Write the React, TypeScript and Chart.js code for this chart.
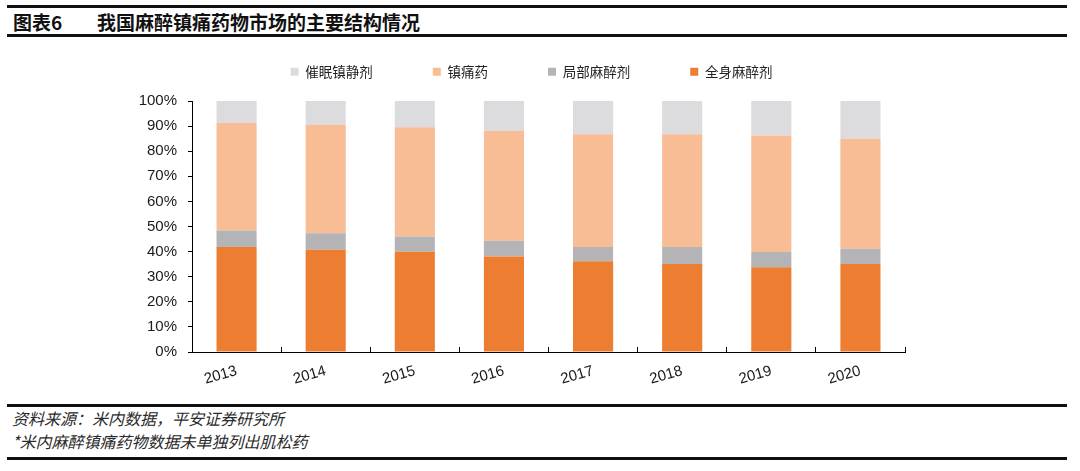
import React, { useEffect, useRef } from "react";
import { Chart, registerables } from "chart.js";

Chart.register(...registerables);

const years = ["2013", "2014", "2015", "2016", "2017", "2018", "2019", "2020"];
const generalAnesthetics = [41.8, 40.7, 39.9, 38.0, 36.2, 35.1, 33.8, 35.1];
const localAnesthetics = [6.6, 6.6, 6.1, 6.3, 5.6, 6.7, 6.0, 6.0];
const analgesics = [42.8, 43.2, 43.5, 43.7, 45.0, 45.0, 46.5, 43.9];
const sedatives = [8.8, 9.5, 10.5, 12.0, 13.2, 13.2, 13.7, 15.0];

const seriesNames = ["全身麻醉剂", "局部麻醉剂", "镇痛药", "催眠镇静剂"];
const seriesColors = ["#ED7D31", "#B4B4B6", "#F8BD95", "#DCDCDE"];
const yTicks = [0, 10, 20, 30, 40, 50, 60, 70, 80, 90, 100];

const titleLabel = "图表6";
const titleText = "我国麻醉镇痛药物市场的主要结构情况";
const sourceText = "资料来源：米内数据，平安证券研究所";
const noteText = "*米内麻醉镇痛药物数据未单独列出肌松药";

const CJK = '"Noto Sans CJK SC", "Noto Sans", sans-serif';
const LATIN = '"Liberation Sans", Arial, sans-serif';

const LEGEND_CENTER = 431.5;

const legendSpacer = {
  id: "legendSpacer",
  afterInit(chart: any) {
    const lg = chart.legend;
    if (!lg) return;
    const fit = lg.fit;
    lg.fit = function () {
      fit.call(lg);
      lg.height += 12.5;
    };
  },
  afterLayout(chart: any) {
    const lg = chart.legend;
    if (!lg) return;
    const w = lg.right - lg.left;
    lg.left = LEGEND_CENTER - w / 2;
    lg.right = lg.left + w;
  },
};

export default function App() {
  const ref = useRef<HTMLCanvasElement | null>(null);

  useEffect(() => {
    if (!ref.current) return;
    const allSeries = [generalAnesthetics, localAnesthetics, analgesics, sedatives];
    const chart = new Chart(ref.current, {
      type: "bar",
      data: {
        labels: years,
        datasets: allSeries.map((d, i) => ({
          label: seriesNames[i],
          data: d,
          backgroundColor: seriesColors[i],
          borderWidth: 0,
          categoryPercentage: 1,
          barPercentage: 0.45,
        })),
      },
      plugins: [legendSpacer],
      options: {
        animation: false,
        responsive: false,
        maintainAspectRatio: false,
        devicePixelRatio: 1,
        layout: { padding: { left: 0, right: 55, top: 5, bottom: 8 } },
        plugins: {
          tooltip: { enabled: false },
          legend: {
            display: true,
            position: "top",
            reverse: true,
            labels: {
              boxWidth: 8,
              boxHeight: 8,
              padding: 60,
              color: "#222",
              font: { family: CJK, size: 13.5 },
            },
          },
        },
        scales: {
          x: {
            stacked: true,
            offset: true,
            afterFit: (s: any) => {
              s.height = 40;
            },
            grid: {
              display: true,
              offset: true,
              drawOnChartArea: false,
              drawTicks: true,
              tickLength: -5,
              color: "#000",
            },
            border: { display: true, color: "#000", width: 1 },
            ticks: {
              minRotation: 16,
              maxRotation: 16,
              padding: 15,
              color: "#1a1a1a",
              font: { family: LATIN, size: 15 },
            },
          },
          y: {
            stacked: true,
            min: 0,
            max: 100,
            afterFit: (s: any) => {
              s.width = 92;
            },
            afterBuildTicks: (s: any) => {
              s.ticks = yTicks.map((v) => ({ value: v }));
            },
            grid: {
              display: true,
              drawOnChartArea: false,
              drawTicks: true,
              tickLength: 4,
              color: "#000",
            },
            border: { display: true, color: "#000", width: 1 },
            ticks: {
              padding: 11,
              color: "#1a1a1a",
              font: { family: LATIN, size: 15 },
              callback: (v: any) => `${v}%`,
            },
          },
        },
      },
    });
    return () => chart.destroy();
  }, []);

  const line = (top: number): React.CSSProperties => ({
    position: "absolute",
    left: 7,
    width: 1060,
    top,
    height: 3,
    background: "#111",
  });

  const textBase: React.CSSProperties = {
    position: "absolute",
    whiteSpace: "nowrap",
    fontFamily: CJK,
  };

  return (
    <div style={{ position: "absolute", left: 0, top: 0, width: 1080, height: 471, background: "#fff", overflow: "hidden" }}>
      <div style={line(5)} />
      <div style={{ ...textBase, left: 13, top: 9, height: 26, lineHeight: "26px", fontWeight: 700, fontSize: 19, color: "#111" }}>
        {titleLabel}
      </div>
      <div style={{ ...textBase, left: 97, top: 9, height: 26, lineHeight: "26px", fontWeight: 700, fontSize: 19, color: "#111" }}>
        {titleText}
      </div>
      <div style={line(34)} />
      <canvas
        ref={ref}
        width={860}
        height={400}
        style={{ position: "absolute", left: 100, top: 0, width: 860, height: 400 }}
      />
      <div style={line(404)} />
      <div style={{ ...textBase, left: 12, top: 408, height: 20, lineHeight: "20px", fontStyle: "italic", fontSize: 16, color: "#2a2a2a" }}>
        {sourceText}
      </div>
      <div style={{ ...textBase, left: 12, top: 431, height: 20, lineHeight: "20px", fontStyle: "italic", fontSize: 16, color: "#2a2a2a" }}>
        {noteText}
      </div>
      <div style={line(457)} />
    </div>
  );
}
